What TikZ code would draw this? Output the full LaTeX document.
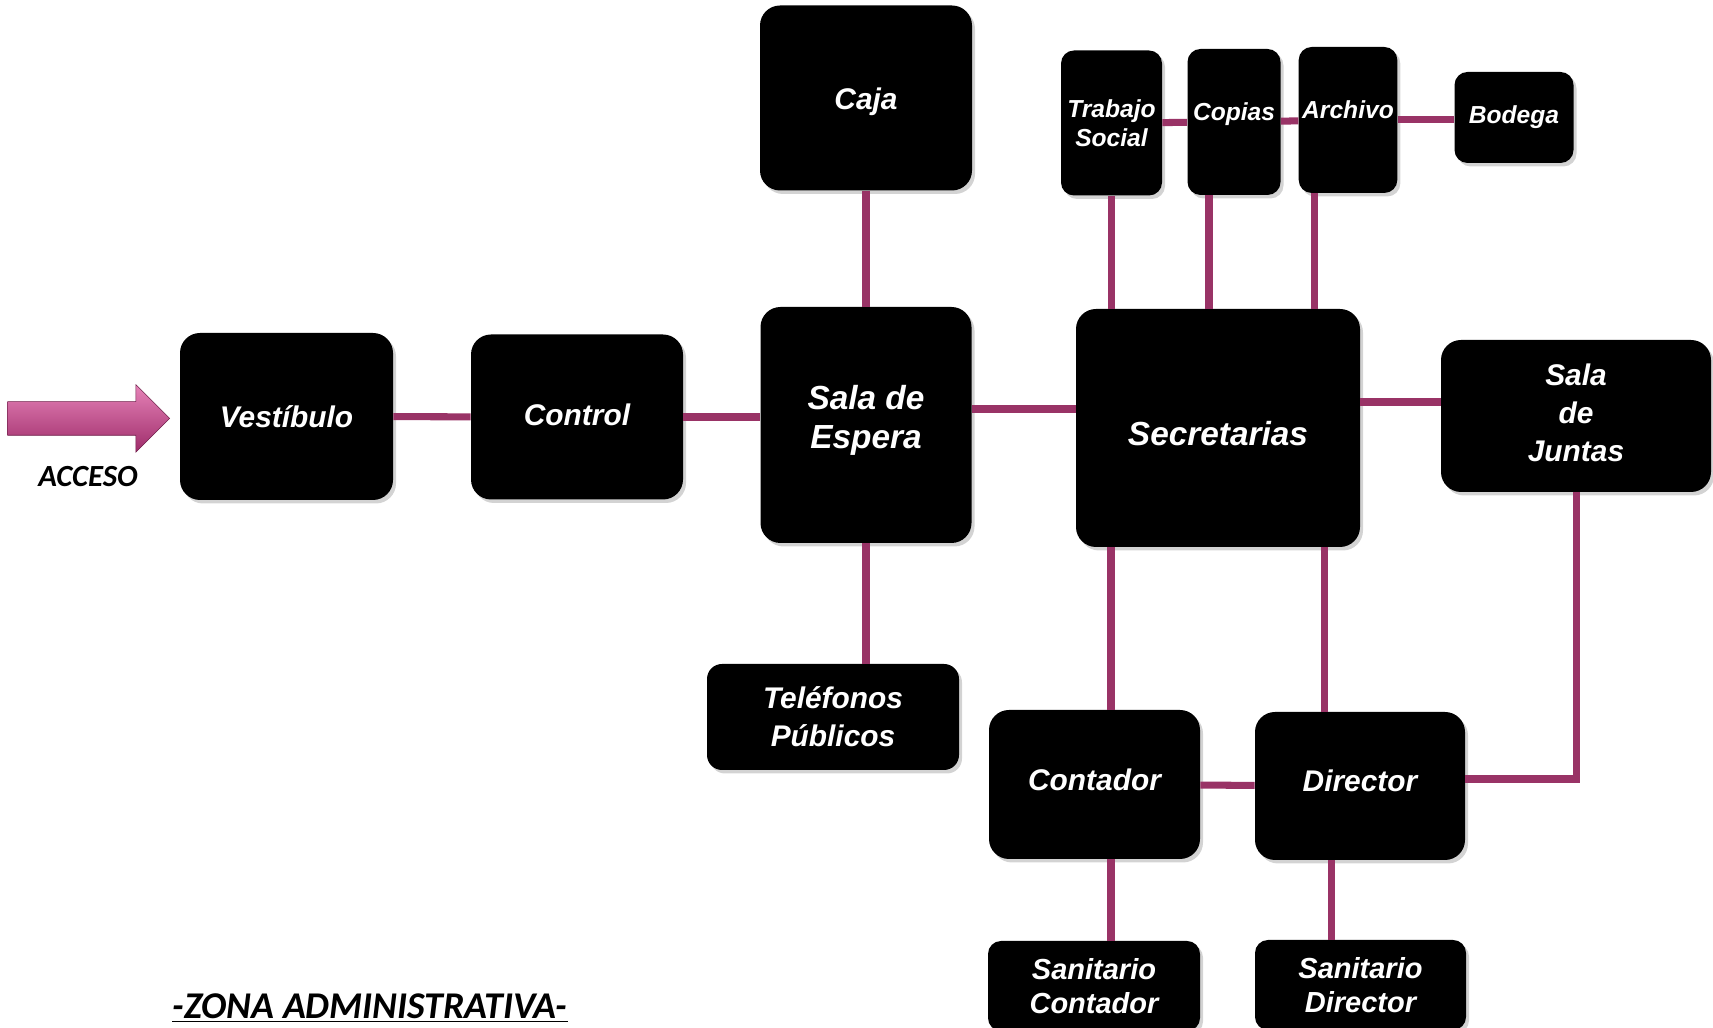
\documentclass[tikz,border=0pt]{standalone}
\usepackage{fontspec}
\setmainfont{Liberation Sans}
\newfontfamily\calib{Carlito}
\usetikzlibrary{positioning,shapes.arrows,shadows}
\definecolor{liga}{HTML}{993366}
\definecolor{flechaA}{HTML}{E683B8}
\definecolor{flechaB}{HTML}{9E2C6A}

\begin{document}
\begin{tikzpicture}[
  bx/.style={fill=black, rounded corners=0.4cm, text=white, align=center, inner sep=2pt,
    font=\bfseries\itshape\fontsize{17}{21.5}\selectfont,
    drop shadow={opacity=0.35, shadow xshift=0.6mm, shadow yshift=-0.7mm}},
  bxb/.style={bx, font=\bfseries\itshape\fontsize{19}{22.5}\selectfont},
  bxs/.style={bx, rounded corners=0.26cm, font=\bfseries\itshape\fontsize{14}{16.5}\selectfont},
  lnk/.style={draw=liga, line width=4pt},
  lab/.style={font=\calib\bfseries\itshape\fontsize{17.5}{20}\selectfont},
]
\useasboundingbox (0,0) rectangle (34.26,20.56);

% entrada
\node[single arrow, top color=flechaA, bottom color=flechaB, draw=flechaB!70!black, line width=0.3pt,
  minimum height=3.24cm, inner xsep=0pt, inner ysep=0.33cm, single arrow head extend=0.34cm, anchor=tip]
  (flecha) at (3.40,12.19) {};
\node[lab] (acceso) at (1.76,11.02) {ACCESO};

% recorrido principal
\node[bx, minimum width=4.26cm, minimum height=3.34cm] (vest) at (5.73,12.23) {Vestíbulo};
\node[bx, text depth=0.1cm, minimum width=4.24cm, minimum height=3.30cm] (control) at (11.54,12.22) {Control};
\node[bxb, text depth=0.32cm, minimum width=4.22cm, minimum height=4.72cm] (espera) at (17.32,12.06) {Sala de\\Espera};
\node[bx, text height=0.57cm, minimum width=4.24cm, minimum height=3.70cm] (caja) at (17.32,18.60) {Caja};
\node[bx, rounded corners=0.3cm, minimum width=5.04cm, minimum height=2.12cm] (tel) at (16.66,6.22) {Teléfonos\\Públicos};
\node[bxb, text height=0.7cm, minimum width=5.68cm, minimum height=4.76cm] (secre) at (24.36,12.00) {Secretarias};
\node[bx, text depth=0.13cm, minimum width=5.40cm, minimum height=3.04cm] (juntas) at (31.52,12.24) {Sala\\de\\Juntas};

% oficinas de apoyo
\node[bxs, minimum width=2.02cm, minimum height=2.90cm] (trabajo) at (22.23,18.10) {Trabajo\\Social};
\node[bxs, text depth=0.42cm, minimum width=1.86cm, minimum height=2.92cm] (copias) at (24.68,18.12) {Copias};
\node[bxs, text depth=0.42cm, minimum width=1.84cm, minimum height=2.92cm] (archivo) at (26.96,18.16) {Archivo};
\node[bxs, minimum width=2.38cm, minimum height=1.82cm] (bodega) at (30.28,18.21) {Bodega};

% direccion
\node[bx, text depth=0.2cm, minimum width=4.22cm, minimum height=2.98cm] (contador) at (21.89,4.87) {Contador};
\node[bx, text depth=0.2cm, minimum width=4.20cm, minimum height=2.96cm] (director) at (27.20,4.84) {Director};
\node[bx, rounded corners=0.26cm, font=\bfseries\itshape\fontsize{16.5}{19.5}\selectfont,
  minimum width=4.24cm, minimum height=1.8cm] (sancont) at (21.88,0.84) {Sanitario\\Contador};
\node[bx, rounded corners=0.26cm, font=\bfseries\itshape\fontsize{16.5}{19.5}\selectfont,
  minimum width=4.22cm, minimum height=1.8cm] (sandir) at (27.21,0.86) {Sanitario\\Director};

\node[lab, font=\calib\bfseries\itshape\fontsize{21.5}{24}\selectfont, anchor=base] (zona) at (7.40,0.19) {\underline{-ZONA ADMINISTRATIVA-}};

% ligas
\draw[lnk] (vest) -- (control);
\draw[lnk] (control.east) -- (control.east -| espera.west);
\draw[lnk] (caja) -- (espera);
\draw[lnk] (espera.south) -- (espera.south |- tel.north);
\coordinate (e1) at ([yshift=3.2mm]espera.east);
\draw[lnk] (e1) -- (e1 -| secre.west);

\draw[lnk] (trabajo.south) -- (trabajo.south |- secre.north);
\coordinate (s2) at ([xshift=-5mm]copias.south);
\draw[lnk] (s2) -- (s2 |- secre.north);
\coordinate (s3) at ([xshift=-6.8mm]archivo.south);
\draw[lnk] (s3) -- (s3 |- secre.north);
\draw[lnk] (trabajo) -- (copias);
\draw[lnk] (copias) -- (archivo);
\draw[lnk] (archivo.east) -- (archivo.east -| bodega.west);

\coordinate (j1) at ([yshift=2.8mm]juntas.west);
\draw[lnk] (j1) -- (j1 -| secre.east);
\coordinate (c1) at ([xshift=3.3mm]contador.north);
\draw[lnk] (c1) -- (c1 |- secre.south);
\coordinate (d1) at ([xshift=-7.2mm]director.north);
\draw[lnk] (d1) -- (d1 |- secre.south);
\draw[lnk] (contador) -- (director);
\draw[lnk] ([yshift=1.4mm]director.east) -| (juntas.south);
\coordinate (c2) at ([xshift=3.3mm]contador.south);
\draw[lnk] (c2) -- (c2 |- sancont.north);
\coordinate (d2) at ([xshift=-5.8mm]director.south);
\draw[lnk] (d2) -- (d2 |- sandir.north);
\end{tikzpicture}
\end{document}
